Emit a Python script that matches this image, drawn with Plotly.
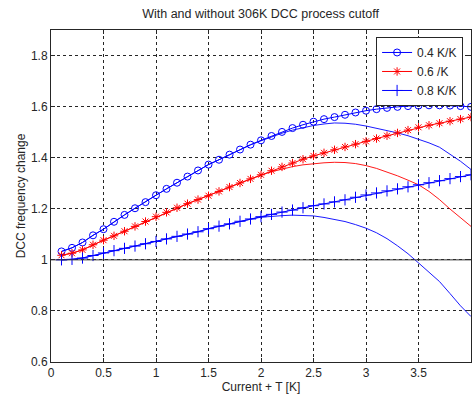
import plotly.graph_objects as go

x_vals = [round(0.1 * i, 1) for i in range(1, 41)]

s04_cut = [1.033, 1.047, 1.068, 1.096, 1.120, 1.149, 1.176, 1.202, 1.226, 1.253,
           1.278, 1.302, 1.326, 1.350, 1.373, 1.392, 1.412, 1.432, 1.451, 1.468,
           1.485, 1.501, 1.516, 1.529, 1.541, 1.551, 1.559, 1.568, 1.577, 1.584,
           1.590, 1.595, 1.599, 1.602, 1.604, 1.605, 1.605, 1.604, 1.602, 1.599]
s04_nocut = [1.033, 1.047, 1.068, 1.096, 1.120, 1.149, 1.176, 1.202, 1.226, 1.253,
             1.278, 1.302, 1.326, 1.350, 1.373, 1.392, 1.412, 1.432, 1.450, 1.466,
             1.482, 1.496, 1.508, 1.518, 1.526, 1.532, 1.536, 1.535, 1.531, 1.524,
             1.516, 1.507, 1.497, 1.486, 1.473, 1.458, 1.441, 1.415, 1.386, 1.354]

s06_cut = [1.018, 1.026, 1.039, 1.059, 1.077, 1.094, 1.112, 1.131, 1.150, 1.169,
           1.186, 1.204, 1.220, 1.236, 1.251, 1.268, 1.285, 1.301, 1.317, 1.333,
           1.349, 1.364, 1.379, 1.394, 1.407, 1.419, 1.431, 1.442, 1.453, 1.464,
           1.475, 1.486, 1.497, 1.508, 1.519, 1.527, 1.535, 1.543, 1.551, 1.559]
s06_nocut = [1.018, 1.026, 1.039, 1.059, 1.077, 1.094, 1.112, 1.131, 1.150, 1.169,
             1.186, 1.204, 1.220, 1.236, 1.251, 1.268, 1.285, 1.301, 1.317, 1.332,
             1.345, 1.356, 1.365, 1.372, 1.377, 1.380, 1.382, 1.381, 1.377, 1.369,
             1.358, 1.345, 1.329, 1.312, 1.294, 1.268, 1.236, 1.199, 1.166, 1.131]

s08_cut = [1.000, 1.002, 1.007, 1.017, 1.027, 1.036, 1.045, 1.054, 1.063, 1.072,
           1.082, 1.092, 1.101, 1.110, 1.122, 1.132, 1.141, 1.151, 1.160, 1.169,
           1.178, 1.187, 1.195, 1.204, 1.212, 1.219, 1.227, 1.235, 1.245, 1.254,
           1.262, 1.270, 1.278, 1.286, 1.294, 1.302, 1.310, 1.318, 1.326, 1.333]
s08_nocut = [1.000, 1.002, 1.007, 1.017, 1.027, 1.036, 1.045, 1.054, 1.063, 1.072,
             1.082, 1.092, 1.101, 1.110, 1.122, 1.132, 1.141, 1.151, 1.159, 1.167,
             1.171, 1.173, 1.175, 1.174, 1.172, 1.166, 1.159, 1.150, 1.138, 1.124,
             1.106, 1.083, 1.055, 1.024, 0.988, 0.953, 0.915, 0.868, 0.820, 0.778]

labels = ["0.4 K/K", "0.6 /K", "0.8 K/K"]
x_ticks = [0, 0.5, 1, 1.5, 2, 2.5, 3, 3.5, 4]
x_tick_text = ["0", "0.5", "1", "1.5", "2", "2.5", "3", "3.5", "4"]
y_ticks = [0.6, 0.8, 1.0, 1.2, 1.4, 1.6, 1.8]
y_tick_text = ["0.6", "0.8", "1", "1.2", "1.4", "1.6", "1.8"]
ref_level = 1.0

BLUE = "#0000ff"
RED = "#ff0000"
FONT = "Liberation Sans, Arial, sans-serif"
INK = "#262626"

fig = go.Figure()

# thin lines (without cutoff)
fig.add_trace(go.Scatter(x=x_vals, y=s04_nocut, mode="lines",
                         line=dict(color=BLUE, width=0.9), showlegend=False))
fig.add_trace(go.Scatter(x=x_vals, y=s06_nocut, mode="lines",
                         line=dict(color=RED, width=0.9), showlegend=False))
fig.add_trace(go.Scatter(x=x_vals, y=s08_nocut, mode="lines",
                         line=dict(color=BLUE, width=0.9), showlegend=False))

# marker lines (with cutoff)
fig.add_trace(go.Scatter(x=x_vals, y=s04_cut, mode="lines+markers", name=labels[0],
                         line=dict(color=BLUE, width=1),
                         marker=dict(symbol="circle-open", size=7, color=BLUE,
                                     line=dict(width=1, color=BLUE))))
fig.add_trace(go.Scatter(x=x_vals, y=s06_cut, mode="lines+markers", name=labels[1],
                         line=dict(color=RED, width=1),
                         marker=dict(symbol="asterisk-open", size=7, color=RED,
                                     line=dict(width=1, color=RED))))
fig.add_trace(go.Scatter(x=x_vals, y=s08_cut, mode="lines+markers", name=labels[2],
                         line=dict(color=BLUE, width=1),
                         marker=dict(symbol="cross-thin-open", size=8, color=BLUE,
                                     line=dict(width=1, color=BLUE))))

fig.add_hline(y=ref_level, line=dict(color="#333333", width=1))

axis_common = dict(
    showline=True, linecolor=INK, linewidth=1, mirror="ticks",
    ticks="inside", ticklen=4, tickcolor=INK,
    showgrid=True, gridcolor=INK, gridwidth=1, griddash="dot",
    zeroline=False, tickfont=dict(family=FONT, size=12, color=INK),
    automargin=False,
)

fig.update_xaxes(range=[0, 4], tickvals=x_ticks, ticktext=x_tick_text,
                 title=dict(text="Current + T [K]", font=dict(family=FONT, size=12, color=INK),
                            standoff=0),
                 **axis_common)
fig.update_yaxes(range=[0.6, 1.9], tickvals=y_ticks, ticktext=y_tick_text,
                 title=dict(text="DCC frequency change", font=dict(family=FONT, size=12, color=INK),
                            standoff=2),
                 **axis_common)

fig.update_layout(
    width=472, height=396,
    margin=dict(l=51, r=1, t=30, b=34, autoexpand=False),
    paper_bgcolor="white", plot_bgcolor="white",
    title=dict(text="With and without 306K DCC process cutoff", x=0.552, xanchor="center",
               y=0.965, yanchor="middle",
               font=dict(family=FONT, size=12.5, color=INK)),
    legend=dict(x=0.774, y=0.979, xanchor="left", yanchor="top",
                bgcolor="white", bordercolor=INK, borderwidth=1,
                font=dict(family=FONT, size=12, color=INK),
                tracegroupgap=0, itemwidth=30),
    showlegend=True,
)

fig.write_html("out.html",
               config={"displayModeBar": False},
               post_script="document.body.style.margin='0';document.body.style.overflow='hidden';")
